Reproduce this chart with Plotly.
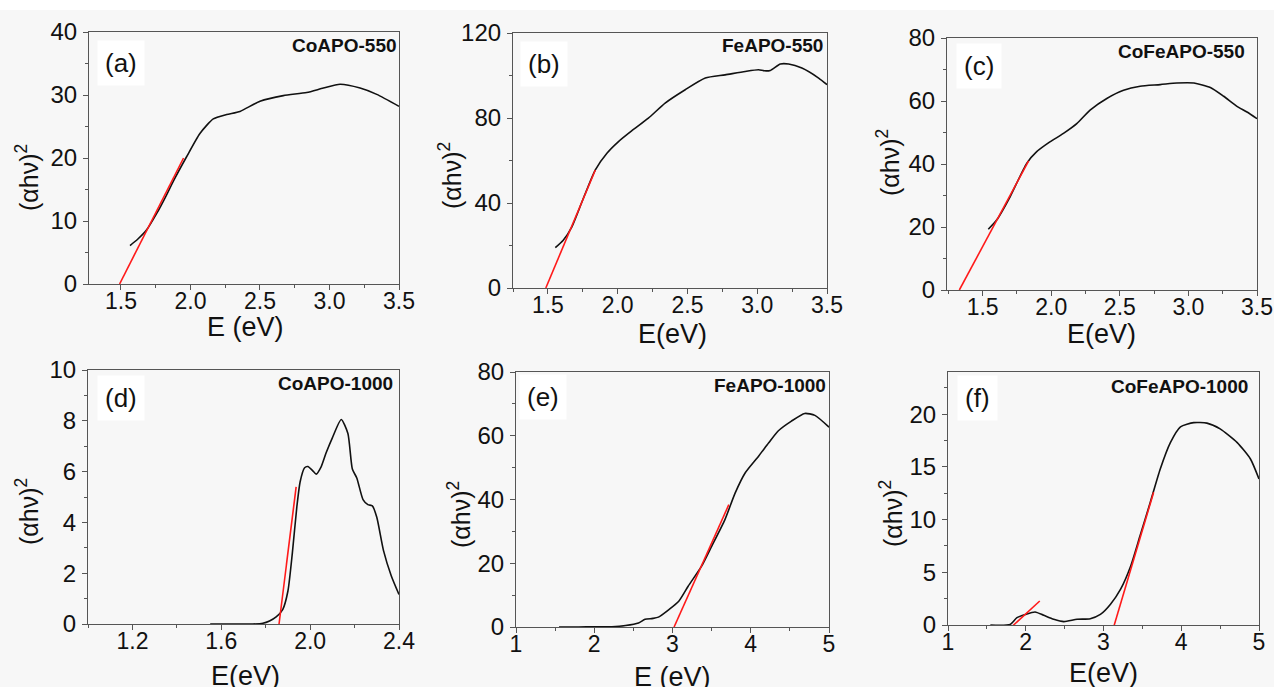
import plotly.graph_objects as go

# ---------------- data ----------------
# (a) CoAPO-550
coapo550_E = [1.565, 1.62, 1.685, 1.757, 1.82, 1.876, 1.972, 2.068, 2.164, 2.26, 2.356,
              2.5, 2.668, 2.836, 2.956, 3.076, 3.22, 3.34, 3.5]
coapo550_y = [6.1, 7.1, 8.6, 11.2, 13.8, 16.3, 20.2, 23.9, 26.2, 26.9, 27.4,
              29.0, 29.9, 30.4, 31.1, 31.7, 31.1, 30.1, 28.2]
coapo550_fit_E = [1.49, 1.95]
coapo550_fit_y = [0, 20]

# (b) FeAPO-550
feapo550_E = [1.553, 1.61, 1.672, 1.75, 1.839, 1.923, 2.006, 2.1, 2.22, 2.34, 2.484,
              2.628, 2.77, 2.914, 3.01, 3.05, 3.094, 3.166, 3.225, 3.32, 3.44, 3.5]
feapo550_y = [19.0, 22.5, 28.8, 41.5, 55.5, 63.4, 68.9, 73.9, 79.9, 87.0, 93.3,
              98.8, 100.3, 101.9, 102.7, 102.2, 102.4, 105.4, 105.4, 103.5, 98.8, 95.7]
feapo550_fit_E = [1.485, 1.84]
feapo550_fit_y = [0, 55.5]

# (c) CoFeAPO-550
cofeapo550_E = [1.541, 1.602, 1.70, 1.821, 1.894, 1.99, 2.089, 2.186, 2.283, 2.405,
                2.527, 2.648, 2.794, 2.916, 3.04, 3.16, 3.257, 3.354, 3.427, 3.5]
cofeapo550_y = [19.3, 22.2, 29.6, 40.2, 43.9, 47.0, 49.7, 52.8, 57.1, 60.8,
                63.4, 64.7, 65.2, 65.7, 65.7, 64.3, 61.5, 58.3, 56.5, 54.4]
cofeapo550_fit_E = [1.33, 1.835]
cofeapo550_fit_y = [0, 41]

# (d) CoAPO-1000
coapo1000_E = [1.55, 1.70, 1.742, 1.787, 1.817, 1.847, 1.877, 1.90, 1.92, 1.94, 1.955,
               1.975, 1.99, 2.01, 2.027, 2.05, 2.072, 2.10, 2.14, 2.17, 2.19, 2.21,
               2.238, 2.26, 2.28, 2.30, 2.33, 2.365, 2.4]
coapo1000_y = [0, 0, 0, 0.03, 0.12, 0.28, 0.58, 1.3, 2.8, 4.6, 5.6,
               6.15, 6.2, 6.05, 5.9, 6.2, 6.74, 7.33, 8.05, 7.5, 6.1, 5.75,
               4.9, 4.7, 4.65, 4.2, 2.9, 1.9, 1.16]
coapo1000_fit_E = [1.86, 1.937]
coapo1000_fit_y = [0, 5.4]

# (e) FeAPO-1000
feapo1000_E = [1.55, 1.8, 2.0, 2.225, 2.4, 2.566, 2.65, 2.75, 2.82, 2.95, 3.08, 3.2,
               3.37, 3.5, 3.67, 3.8, 3.93, 4.1, 4.23, 4.35, 4.52, 4.69, 4.82, 5.0]
feapo1000_y = [0, 0, 0.05, 0.1, 0.47, 1.26, 2.4, 2.7, 3.1, 5.4, 8.1, 12.8,
               19.0, 25.3, 33.7, 42.0, 48.4, 53.6, 57.8, 61.5, 64.6, 67.0, 66.4, 62.7]
feapo1000_fit_E = [3.02, 3.72]
feapo1000_fit_y = [0, 38.4]

# (f) CoFeAPO-1000
cofeapo1000_E = [1.545, 1.80, 1.887, 1.995, 2.12, 2.23, 2.36, 2.49, 2.66, 2.83, 2.96,
                 3.09, 3.22, 3.35, 3.47, 3.6, 3.73, 3.86, 3.99, 4.16, 4.33, 4.5,
                 4.72, 4.89, 5.0]
cofeapo1000_y = [0, 0.06, 0.7, 1.0, 1.24, 0.92, 0.54, 0.32, 0.54, 0.6, 1.0,
                 1.97, 3.4, 5.6, 8.46, 11.6, 14.8, 17.3, 18.8, 19.2, 19.15, 18.6,
                 17.3, 15.75, 13.85]
cofeapo1000_fit1_E = [1.737, 2.18]
cofeapo1000_fit1_y = [-0.73, 2.28]
cofeapo1000_fit2_E = [3.122, 3.645]
cofeapo1000_fit2_y = [-0.41, 12.6]

panel_letters = ["(a)", "(b)", "(c)", "(d)", "(e)", "(f)"]
sample_names = ["CoAPO-550", "FeAPO-550", "CoFeAPO-550",
                "CoAPO-1000", "FeAPO-1000", "CoFeAPO-1000"]
x_titles = ["E (eV)", "E(eV)", "E(eV)", "E(eV)", "E (eV)", "E(eV)"]
y_title = "(αhν)<sup>2</sup>"

# ---------------- layout geometry (pixels) ----------------
W, H = 1274, 687
BG = "#f7f7f7"
AXIS_COLOR = "#555555"
TEXT_COLOR = "#111111"
FONT = "Liberation Sans, Arial, sans-serif"

panels = [
    # plot box (left, right, top, bottom) and axis settings for each sample
    dict(box=(89, 399, 32, 284), xr=[1.27, 3.5], xd=0.5, xm=0.25, yr=[0, 40], yd=10, ym=5, fmt=".1f",
         curves=[(coapo550_E, coapo550_y)], fits=[(coapo550_fit_E, coapo550_fit_y)],
         letter_xy=(121, 63), name_xy=(344, 46), xt_xy=(245, 327), yt_xy=(27, 178)),
    dict(box=(513, 827, 33, 288), xr=[1.25, 3.5], xd=0.5, xm=0.25, yr=[0, 120], yd=40, ym=20, fmt=".1f",
         curves=[(feapo550_E, feapo550_y)], fits=[(feapo550_fit_E, feapo550_fit_y)],
         letter_xy=(544, 64), name_xy=(772, 46), xt_xy=(672, 334), yt_xy=(450, 176)),
    dict(box=(947, 1257, 38, 290), xr=[1.24, 3.5], xd=0.5, xm=0.25, yr=[0, 80], yd=20, ym=10, fmt=".1f",
         curves=[(cofeapo550_E, cofeapo550_y)], fits=[(cofeapo550_fit_E, cofeapo550_fit_y)],
         letter_xy=(979, 66), name_xy=(1181, 52), xt_xy=(1101, 334), yt_xy=(888, 163)),
    dict(box=(88, 399, 370, 624), xr=[1.0, 2.4], xd=0.4, xm=0.2, yr=[0, 10], yd=2, ym=1, fmt=".1f",
         curves=[(coapo1000_E, coapo1000_y)], fits=[(coapo1000_fit_E, coapo1000_fit_y)],
         letter_xy=(121, 398), name_xy=(335, 383), xt_xy=(245, 676), yt_xy=(27, 512)),
    dict(box=(516, 829, 372, 627), xr=[1, 5], xd=1, xm=0.5, yr=[0, 80], yd=20, ym=10, fmt="d",
         curves=[(feapo1000_E, feapo1000_y)], fits=[(feapo1000_fit_E, feapo1000_fit_y)],
         letter_xy=(543, 397), name_xy=(770, 385), xt_xy=(672, 677), yt_xy=(459, 514)),
    dict(box=(948, 1259, 372, 625), xr=[1, 5], xd=1, xm=0.5, yr=[0, 24], yd=5, ym=2.5, fmt="d",
         curves=[(cofeapo1000_E, cofeapo1000_y)],
         fits=[(cofeapo1000_fit1_E, cofeapo1000_fit1_y), (cofeapo1000_fit2_E, cofeapo1000_fit2_y)],
         letter_xy=(977, 398), name_xy=(1179, 386), xt_xy=(1103, 673), yt_xy=(891, 514)),
]


def px(x):
    return x / W


def py(y):
    return 1 - y / H


fig = go.Figure()
layout = dict(
    width=W, height=H, autosize=False,
    margin=dict(l=0, r=0, t=0, b=0, autoexpand=False),
    paper_bgcolor=BG, plot_bgcolor=BG,
    showlegend=False,
    font=dict(family=FONT, color=TEXT_COLOR),
)
annotations = []
shapes = [dict(type="rect", xref="paper", yref="paper", x0=0, x1=1, y0=py(10), y1=1,
               fillcolor="white", line=dict(width=0), layer="below")]

for i, p in enumerate(panels, start=1):
    xa = "x" if i == 1 else f"x{i}"
    ya = "y" if i == 1 else f"y{i}"
    left, right, top, bottom = p["box"]
    axis_common = dict(
        showline=True, linecolor=AXIS_COLOR, linewidth=1.2, mirror=True,
        showgrid=False, zeroline=False, automargin=False,
        ticks="outside", ticklen=5, tickwidth=1.2, tickcolor=AXIS_COLOR,
        fixedrange=True,
    )
    layout[f"xaxis{i}"] = dict(
        axis_common, domain=[px(left), px(right)], range=p["xr"], anchor=ya,
        tickmode="linear", tick0=0, dtick=p["xd"], tickformat=p["fmt"],
        tickfont=dict(family=FONT, size=23, color=TEXT_COLOR),
        ticklabelstandoff=-9,
        minor=dict(ticks="outside", ticklen=3, tickwidth=1, tickcolor=AXIS_COLOR,
                   tickmode="linear", tick0=0, dtick=p["xm"], showgrid=False),
    )
    layout[f"yaxis{i}"] = dict(
        axis_common, domain=[py(bottom), py(top)], range=p["yr"], anchor=xa,
        tickmode="linear", tick0=0, dtick=p["yd"],
        tickfont=dict(family=FONT, size=24, color=TEXT_COLOR),
        ticklabelstandoff=1,
        minor=dict(ticks="outside", ticklen=3, tickwidth=1, tickcolor=AXIS_COLOR,
                   tickmode="linear", tick0=0, dtick=p["ym"], showgrid=False),
    )

    for E, A in p["curves"]:
        fig.add_trace(go.Scatter(x=E, y=A, mode="lines", xaxis=xa, yaxis=ya,
                                 line=dict(color=TEXT_COLOR, width=1.6, shape="spline", smoothing=0.6),
                                 hoverinfo="skip"))
    for E, A in p["fits"]:
        fig.add_trace(go.Scatter(x=E, y=A, mode="lines", xaxis=xa, yaxis=ya,
                                 line=dict(color="#ff1a1a", width=1.6),
                                 hoverinfo="skip"))

    lx, ly = p["letter_xy"]
    annotations.append(dict(
        x=px(lx), y=py(ly), xref="paper", yref="paper", showarrow=False,
        text=panel_letters[i - 1], font=dict(family=FONT, size=26, color=TEXT_COLOR),
        bgcolor="white", borderpad=7, xanchor="center", yanchor="middle"))
    nx, ny = p["name_xy"]
    annotations.append(dict(
        x=px(nx), y=py(ny), xref="paper", yref="paper", showarrow=False,
        text=sample_names[i - 1],
        font=dict(family=FONT, size=19, color=TEXT_COLOR, weight="bold"),
        xanchor="center", yanchor="middle"))
    tx, ty = p["xt_xy"]
    annotations.append(dict(
        x=px(tx), y=py(ty), xref="paper", yref="paper", showarrow=False,
        text=x_titles[i - 1], font=dict(family=FONT, size=27, color=TEXT_COLOR),
        xanchor="center", yanchor="middle"))
    yx, yy = p["yt_xy"]
    annotations.append(dict(
        x=px(yx), y=py(yy), xref="paper", yref="paper", showarrow=False,
        text=y_title, textangle=-90, font=dict(family=FONT, size=25, color=TEXT_COLOR),
        xanchor="center", yanchor="middle"))

layout["annotations"] = annotations
layout["shapes"] = shapes
fig.update_layout(**layout)
fig.write_html("out.html")
